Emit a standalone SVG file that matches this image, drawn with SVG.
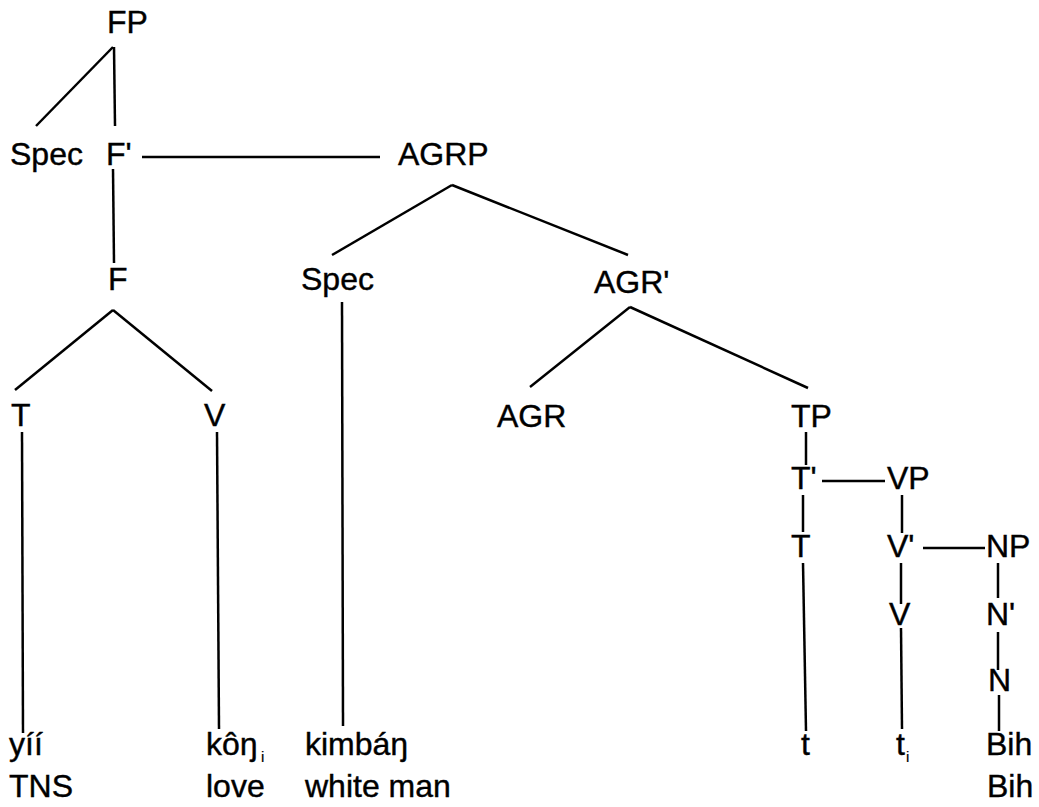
<svg xmlns="http://www.w3.org/2000/svg" width="1039" height="807" viewBox="0 0 1039 807">
<style>
text{font-family:"Liberation Sans",Arial,sans-serif;font-size:32px;fill:#000;stroke:#000;stroke-width:0.4}
.sub{font-size:15px;stroke-width:0.2}
.c line{stroke:#000;stroke-width:2.5;fill:none}
</style>
<rect width="1039" height="807" fill="#fff"/>
<g id="connectors" class="c">
<line x1="113" y1="47" x2="36" y2="126"/>
<line x1="114" y1="47" x2="115" y2="126"/>
<line x1="142" y1="157" x2="380" y2="157"/>
<line x1="113" y1="169" x2="114" y2="263"/>
<line x1="452" y1="185" x2="332" y2="255"/>
<line x1="452" y1="185" x2="628" y2="255"/>
<line x1="113" y1="310" x2="15" y2="390"/>
<line x1="113" y1="310" x2="212" y2="391"/>
<line x1="342" y1="302" x2="343" y2="726"/>
<line x1="630" y1="307" x2="530" y2="387"/>
<line x1="630" y1="307" x2="808" y2="388"/>
<line x1="22" y1="432" x2="23" y2="733"/>
<line x1="217" y1="432" x2="219" y2="729"/>
<line x1="806" y1="432" x2="806" y2="465"/>
<line x1="822" y1="481" x2="885" y2="481"/>
<line x1="803" y1="495" x2="803" y2="532"/>
<line x1="902" y1="495" x2="902" y2="533"/>
<line x1="923" y1="548" x2="985" y2="548"/>
<line x1="803" y1="563" x2="806" y2="731"/>
<line x1="901" y1="563" x2="901" y2="604"/>
<line x1="998" y1="563" x2="998" y2="598"/>
<line x1="901" y1="628" x2="902" y2="729"/>
<line x1="998" y1="632" x2="998" y2="670"/>
<line x1="999" y1="695" x2="999" y2="731"/>
</g>
<g id="FP"><text x="107" y="33">FP</text></g>
<g id="Spec1"><text x="10" y="165">Spec</text></g>
<g id="Fbar"><text x="106" y="165">F'</text></g>
<g id="AGRP"><text x="398" y="165">AGRP</text></g>
<g id="F"><text x="108" y="290">F</text></g>
<g id="Spec2"><text x="301" y="290">Spec</text></g>
<g id="AGRbar"><text x="594" y="293">AGR'</text></g>
<g id="T1"><text x="11" y="426">T</text></g>
<g id="V1"><text x="204" y="426">V</text></g>
<g id="AGR"><text x="497" y="427">AGR</text></g>
<g id="TP"><text x="791" y="427">TP</text></g>
<g id="Tbar"><text x="791" y="489">T'</text></g>
<g id="VP"><text x="887" y="489">VP</text></g>
<g id="T2"><text x="791" y="557">T</text></g>
<g id="Vbar"><text x="887" y="557">V'</text></g>
<g id="NP"><text x="986" y="557">NP</text></g>
<g id="V2"><text x="889" y="625">V</text></g>
<g id="Nbar"><text x="986" y="625">N'</text></g>
<g id="N"><text x="988" y="691">N</text></g>
<g id="w-yii"><text x="9" y="755">yíí</text><text x="9" y="797">TNS</text></g>
<g id="w-kon"><text x="206" y="755">kôŋ</text><text class="sub" x="261" y="762">i</text><text x="206" y="797">love</text></g>
<g id="w-kimban"><text x="305" y="755">kimbáŋ</text><text x="305" y="797">white man</text></g>
<g id="w-t"><text x="801" y="755">t</text></g>
<g id="w-ti"><text x="896" y="755">t</text><text class="sub" x="906" y="762">i</text></g>
<g id="w-Bih"><text x="986" y="755">Bih</text><text x="987" y="797">Bih</text></g>
</svg>
